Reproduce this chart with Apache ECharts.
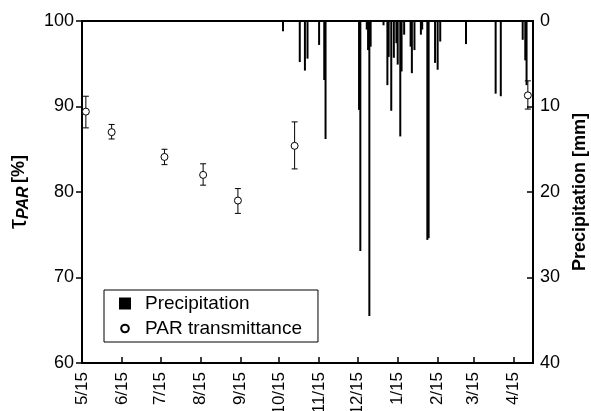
<!DOCTYPE html>
<html>
<head>
<meta charset="utf-8">
<script src="https://cdn.jsdelivr.net/npm/echarts@6/dist/echarts.min.js"></script>
<style>
html,body{margin:0;padding:0;background:#fff;}
#chart{width:591px;height:411px;}
</style>
</head>
<body>
<div id="chart"></div>
<script>
// ---- data ----
const startDate = '2010-05-15';
const endDate = '2011-04-30';

// PAR transmittance (%), with error bar limits
const parDates = ['2010-05-18', '2010-06-07', '2010-07-18', '2010-08-17', '2010-09-13', '2010-10-27', '2011-04-26'];
const parValues = [89.4, 87.0, 84.1, 82.0, 79.0, 85.4, 91.3];
const parLow = [87.5, 86.2, 83.2, 80.8, 77.5, 82.7, 89.7];
const parHigh = [91.2, 87.9, 85.0, 83.3, 80.4, 88.2, 93.0];

// Daily precipitation (mm)
const precipDates = ['2010-10-18', '2010-10-31', '2010-11-04', '2010-11-06', '2010-11-15', '2010-11-19', '2010-11-20',
  '2010-12-16', '2010-12-17', '2010-12-22', '2010-12-23', '2010-12-24', '2010-12-25',
  '2011-01-04', '2011-01-07', '2011-01-08', '2011-01-10', '2011-01-12', '2011-01-14', '2011-01-15', '2011-01-17',
  '2011-01-18', '2011-01-20', '2011-01-25', '2011-01-26', '2011-01-28', '2011-02-02', '2011-02-03', '2011-02-07',
  '2011-02-08', '2011-02-13', '2011-02-15', '2011-02-17', '2011-03-09', '2011-04-01', '2011-04-05', '2011-04-22',
  '2011-04-24', '2011-04-25'];
const precipValues = [1.2, 4.8, 5.8, 4.4, 2.8, 6.9, 13.8,
  10.4, 26.9, 1.0, 3.4, 34.5, 3.0,
  0.5, 7.5, 4.2, 10.5, 4.3, 2.6, 5.1, 13.5,
  5.9, 1.6, 3.0, 6.1, 3.4, 1.6, 1.0, 25.6,
  25.4, 4.9, 5.7, 2.4, 2.7, 8.5, 8.8, 2.2,
  4.6, 7.5];

const leftTicks = [60, 70, 80, 90, 100];
const rightTicks = [0, 10, 20, 30, 40];

// ---- build day categories ----
function fmt(d) {
  const y = d.getUTCFullYear();
  const m = String(d.getUTCMonth() + 1).padStart(2, '0');
  const dd = String(d.getUTCDate()).padStart(2, '0');
  return y + '-' + m + '-' + dd;
}
const days = [];
{
  const s = new Date(startDate + 'T00:00:00Z');
  const e = new Date(endDate + 'T00:00:00Z');
  for (let t = s.getTime(); t <= e.getTime(); t += 86400000) days.push(fmt(new Date(t)));
}
const isTickDay = (idx, val) => val.slice(8) === '15';

const precipMap = {};
precipDates.forEach((d, i) => { precipMap[d] = precipValues[i]; });
const barData = days.map(d => (d in precipMap ? precipMap[d] : null));

const parData = parDates.map((d, i) => [d, parValues[i]]);
const errData = parDates.map((d, i) => [d, parLow[i], parHigh[i]]);

const FONT = 'Liberation Sans, Arial, Helvetica, sans-serif';

const chart = echarts.init(document.getElementById('chart'), null, { renderer: 'canvas' });
chart.setOption({
  animation: false,
  backgroundColor: '#fff',
  textStyle: { fontFamily: FONT, color: '#000' },
  grid: {
    left: 82, right: 58, top: 21, bottom: 48,
    containLabel: false,
    outerBoundsMode: 'none',
    show: true, borderColor: '#000', borderWidth: 2, backgroundColor: 'transparent'
  },
  legend: {
    orient: 'vertical',
    left: 104, top: 290,
    padding: [4, 16, 4, 14],
    itemGap: 6,
    itemWidth: 21, itemHeight: 12,
    borderColor: '#000', borderWidth: 1, borderRadius: 0,
    backgroundColor: '#fff',
    textStyle: { fontFamily: FONT, fontSize: 19, color: '#000' },
    data: [
      { name: 'Precipitation', icon: 'path://M0,0M21,12M0,0h12v12h-12z' },
      { name: 'PAR transmittance', icon: 'path://M0,0M21,12M2.2,6a3.8,3.8,0,1,0,7.6,0a3.8,3.8,0,1,0,-7.6,0z' }
    ]
  },
  xAxis: {
    type: 'category',
    data: days,
    boundaryGap: false,
    axisLine: { show: true, onZero: false, lineStyle: { color: '#000', width: 2 } },
    axisTick: { show: true, inside: true, length: 6, interval: isTickDay, lineStyle: { color: '#000', width: 1.5 } },
    axisLabel: {
      interval: isTickDay,
      rotate: 90,
      margin: 9,
      fontSize: 17,
      fontFamily: FONT,
      color: '#000',
      formatter: v => parseInt(v.slice(5, 7), 10) + '/' + parseInt(v.slice(8), 10)
    },
    splitLine: { show: false }
  },
  yAxis: [
    {
      type: 'value',
      min: 60, max: 100, interval: 10,
      position: 'left',
      name: '{t|τ}{s|PAR} {b|[%]}',
      nameLocation: 'middle',
      nameGap: 50,
      nameRotate: 90,
      nameTextStyle: {
        rich: {
          t: { fontSize: 25, fontFamily: FONT, color: '#000' },
          s: { fontSize: 16, fontWeight: 'bold', fontStyle: 'italic', fontFamily: FONT, color: '#000', verticalAlign: 'bottom', padding: [10, 0, 0, 0] },
          b: { fontSize: 18, fontWeight: 'bold', fontFamily: FONT, color: '#000' }
        }
      },
      axisLine: { show: true, onZero: false, lineStyle: { color: '#000', width: 2 } },
      axisTick: { show: true, inside: false, length: 6, lineStyle: { color: '#000', width: 1.5 } },
      axisLabel: { margin: 8, fontSize: 18, fontFamily: FONT, color: '#000',
        formatter: v => (leftTicks.indexOf(v) >= 0 ? String(v) : '') },
      splitLine: { show: false }
    },
    {
      type: 'value',
      min: 0, max: 40, interval: 10,
      inverse: true,
      position: 'right',
      name: 'Precipitation [mm]',
      nameLocation: 'middle',
      nameGap: 37,
      nameRotate: 90,
      nameTextStyle: { fontSize: 18, fontWeight: 'bold', fontFamily: FONT, color: '#000' },
      axisLine: { show: true, onZero: false, lineStyle: { color: '#000', width: 2 } },
      axisTick: { show: true, inside: true, length: 6, lineStyle: { color: '#000', width: 1.5 } },
      axisLabel: { margin: 7, fontSize: 18, fontFamily: FONT, color: '#000',
        formatter: v => (rightTicks.indexOf(v) >= 0 ? String(v) : '') },
      splitLine: { show: false }
    }
  ],
  series: [
    {
      name: 'Precipitation',
      type: 'bar',
      yAxisIndex: 1,
      data: barData,
      barWidth: 2,
      itemStyle: { color: '#000' },
      z: 2
    },
    {
      name: 'PAR error',
      type: 'custom',
      yAxisIndex: 0,
      data: errData,
      encode: { x: 0, y: [1, 2] },
      renderItem: function (params, api) {
        const xi = api.value(0);
        const lo = api.coord([xi, api.value(1)]);
        const hi = api.coord([xi, api.value(2)]);
        const hw = 3;
        const st = { stroke: '#000', lineWidth: 1, fill: null };
        return {
          type: 'group',
          children: [
            { type: 'line', shape: { x1: lo[0], y1: lo[1], x2: hi[0], y2: hi[1] }, style: st },
            { type: 'line', shape: { x1: lo[0] - hw, y1: lo[1], x2: lo[0] + hw, y2: lo[1] }, style: st },
            { type: 'line', shape: { x1: hi[0] - hw, y1: hi[1], x2: hi[0] + hw, y2: hi[1] }, style: st }
          ]
        };
      },
      z: 3
    },
    {
      name: 'PAR transmittance',
      type: 'scatter',
      yAxisIndex: 0,
      data: parData,
      symbol: 'circle',
      symbolSize: 7,
      itemStyle: { color: '#fff', borderColor: '#000', borderWidth: 1, opacity: 1 },
      z: 4
    }
  ]
});
</script>
</body>
</html>
